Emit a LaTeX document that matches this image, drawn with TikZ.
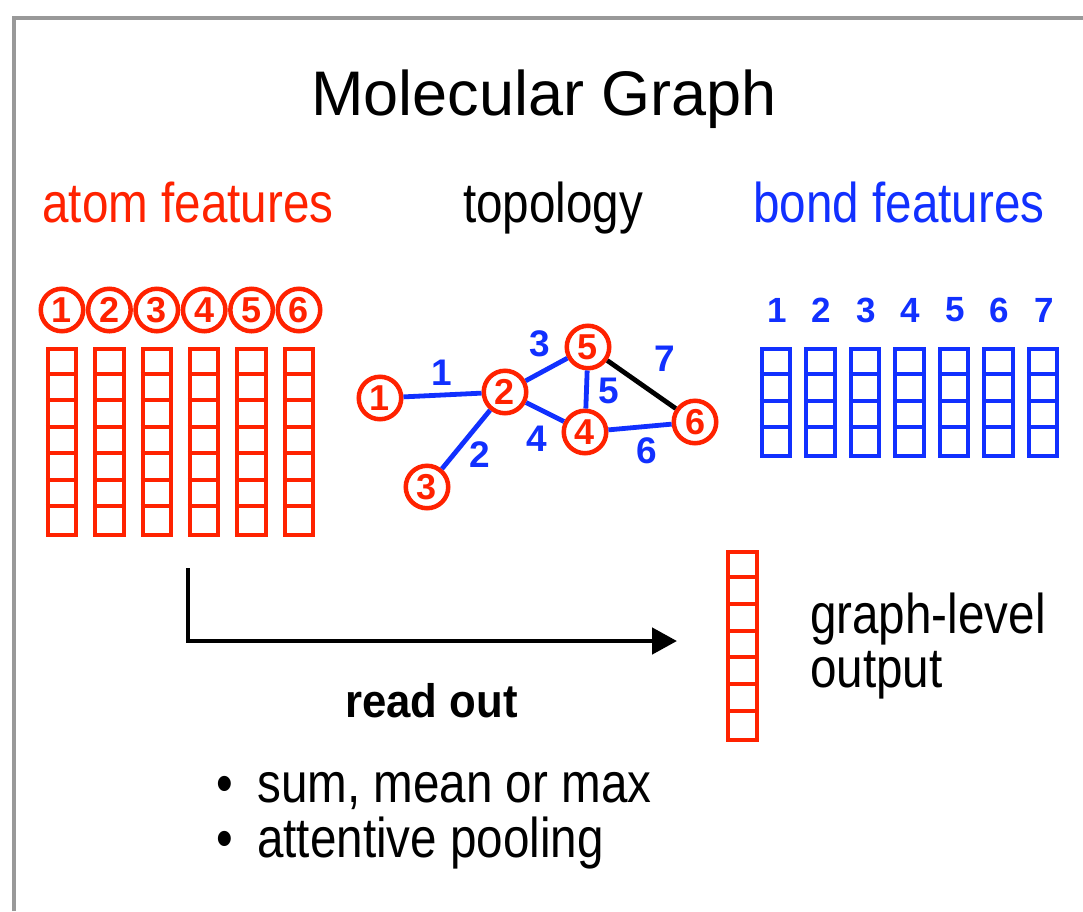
\documentclass[tikz,border=0pt]{standalone}
\usepackage{fontspec}
\setmainfont{Liberation Sans}
\newfontfamily\bodyfont[FakeStretch=0.85]{Liberation Sans}
\newfontfamily\titlefont{Liberation Sans}
\newfontfamily\boldnarrow[FakeStretch=0.93]{Liberation Sans}
\usetikzlibrary{arrows.meta,calc}
\definecolor{mred}{RGB}{255,34,0}
\definecolor{mblue}{RGB}{17,48,255}
\definecolor{mframe}{RGB}{153,153,153}
\begin{document}
\begin{tikzpicture}[x=1pt,y=-1pt,
  atom/.style={circle, draw=mred, line width=4.5pt, minimum size=42.5pt, inner sep=0pt,
    text=mred, font=\fontsize{36}{36}\selectfont\bfseries},
  redcol/.style={draw=mred, line width=4pt, minimum width=28.5pt, inner sep=0pt},
  bluecol/.style={draw=mblue, line width=4pt, minimum width=28.5pt, inner sep=0pt},
  bodytext/.style={font=\bodyfont\fontsize{56}{60}\selectfont, inner sep=0pt},
  edge/.style={draw=mblue, line width=4.8pt},
  elabel/.style={text=mblue, font=\fontsize{37}{37}\selectfont\bfseries, inner sep=0pt},
  bnum/.style={text=mblue, font=\fontsize{35}{35}\selectfont\bfseries, inner sep=0pt},
  readarrow/.style={draw=black, line width=4.8pt, -{Triangle[length=25pt,width=26pt]}}
]
\useasboundingbox (0,0) rectangle (1083,911);
\fill[white] (0,0) rectangle (1083,911);
% frame
\draw[mframe, line width=4.5pt] (14,911) -- (14,18) -- (1083,18);

% titles
\node[anchor=base, inner sep=0pt, font=\titlefont\fontsize{63}{66}\selectfont] (title) at (544,115) {Molecular Graph};
\node[bodytext, anchor=base, text=mred] (atomf) at (188,222) {atom features};
\node[bodytext, anchor=base] (topo) at (553,222) {topology};
\node[bodytext, anchor=base, text=mblue] (bondf) at (899,222) {bond features};

% atom feature columns
\foreach \i in {0,...,5} {
  \pgfmathsetmacro\cx{62+47.4*\i}
  \pgfmathtruncatemacro\n{\i+1}
  \node[atom] (h\n) at (\cx,310) {\n};
  \node[redcol, minimum height=186pt] (ac\n) at (\cx,442) {};
  \foreach \k in {1,...,6} {
    \draw[mred, line width=4pt] ($(ac\n.north west)+(0,26.571*\k)$) -- ($(ac\n.north east)+(0,26.571*\k)$);
  }
}

% bond feature columns
\foreach \i in {0,...,6} {
  \pgfmathsetmacro\cx{776+44.5*\i}
  \pgfmathtruncatemacro\n{\i+1}
  \node[bnum] (bn\n) at (\cx+1,310) {\n};
  \node[bluecol, minimum height=107pt] (bc\n) at (\cx,402.5) {};
  \foreach \k in {1,...,3} {
    \draw[mblue, line width=4pt] ($(bc\n.north west)+(0,26.75*\k)$) -- ($(bc\n.north east)+(0,26.75*\k)$);
  }
}

% graph
\node[atom] (g1) at (380,398) {1};
\node[atom] (g2) at (505,392) {2};
\node[atom] (g3) at (427,487) {3};
\node[atom] (g4) at (585,432) {4};
\node[atom] (g5) at (588,347) {5};
\node[atom] (g6) at (695,422) {6};
\draw[edge] (g1) -- (g2);
\draw[edge] (g2) -- (g3);
\draw[edge] (g2) -- (g5);
\draw[edge] (g2) -- (g4);
\draw[edge] (g5) -- (g4);
\draw[edge] (g4) -- (g6);
\draw[draw=black, line width=4.8pt] (g5) -- (g6);
\node[elabel] (e1) at (442,373) {1};
\node[elabel] (e2) at (480,455) {2};
\node[elabel] (e3) at (540,344) {3};
\node[elabel] (e4) at (537,439) {4};
\node[elabel] (e5) at (609,391) {5};
\node[elabel] (e6) at (647,451) {6};
\node[elabel] (e7) at (665,359) {7};

% read out
\node[redcol, minimum height=188pt] (outc) at (742.5,646) {};
\foreach \k in {1,...,6} {
  \draw[mred, line width=4pt] ($(outc.north west)+(0,26.857*\k)$) -- ($(outc.north east)+(0,26.857*\k)$);
}
\coordinate (rs) at (188,568);
\coordinate (re) at (677,641);
\draw[readarrow] (rs) |- (re);
\node[anchor=base, inner sep=0pt, font=\boldnarrow\fontsize{47}{50}\selectfont\bfseries] (readout) at (431.5,717) {read out};
\node[bodytext, anchor=base west] (gl1) at (810,633) {graph-level};
\node[bodytext, anchor=base west] (gl2) at (810,687) {output};
\node[bodytext, anchor=base] (b1) at (225,802) {•};
\node[bodytext, anchor=base west] (t1) at (257,802) {sum, mean or max};
\node[bodytext, anchor=base] (b2) at (225,857) {•};
\node[bodytext, anchor=base west] (t2) at (257,857) {attentive pooling};
\end{tikzpicture}
\end{document}
